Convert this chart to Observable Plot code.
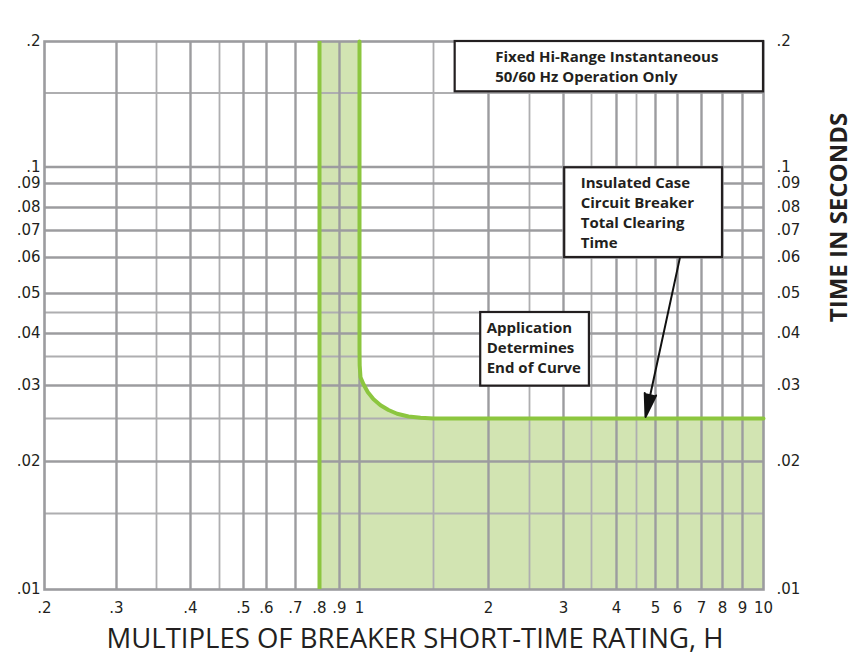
<!DOCTYPE html>
<html>
<head>
<meta charset="utf-8">
<script src="https://cdn.jsdelivr.net/npm/d3@7"></script>
<script src="https://cdn.jsdelivr.net/npm/@observablehq/plot@0.6"></script>
<style>
  html, body { margin: 0; padding: 0; background: #fff; }
  #chart { width: 866px; height: 657px; }
</style>
</head>
<body>
<div id="chart"></div>
<script>
// ---- Axis / grid values ----
const xLabelTicks = [0.2, 0.3, 0.4, 0.5, 0.6, 0.7, 0.8, 0.9, 1, 2, 3, 4, 5, 6, 7, 8, 9, 10];
const xMajorGrid = [0.3, 0.4, 0.5, 0.6, 0.7, 0.8, 0.9, 1, 2, 3, 4, 5, 6, 7, 8, 9];
const xMinorGrid = [0.35, 0.45, 1.5, 2.5, 3.5, 4.5];
const yLabelTicks = [0.01, 0.02, 0.03, 0.04, 0.05, 0.06, 0.07, 0.08, 0.09, 0.1, 0.2];
const yMajorGrid = [0.02, 0.03, 0.04, 0.05, 0.06, 0.07, 0.08, 0.09, 0.1];
const yMinorGrid = [0.015, 0.025, 0.035, 0.045, 0.15];

// The printed log paper is not perfectly logarithmic: piecewise log scale knots
const xKnots = [0.2, 0.3, 0.35, 0.4, 0.45, 0.5, 0.6, 0.7, 0.8, 0.9, 1, 1.5, 2, 2.5, 3, 3.5, 4, 4.5, 5, 6, 7, 8, 9, 10];
const xKnotRange = [44, 116, 156, 190, 219, 243, 266, 295, 319, 339, 359, 433, 488, 529, 563, 591, 616, 636, 655, 677, 701, 722, 742, 763];
const yKnots = [0.01, 0.015, 0.02, 0.025, 0.03, 0.035, 0.04, 0.045, 0.05, 0.06, 0.07, 0.08, 0.09, 0.1, 0.15, 0.2];
const yKnotRange = [589, 513, 461, 418, 385, 356, 333, 312, 293, 257, 230, 207, 183, 166.5, 92.5, 41];

// ---- Trip curve (total clearing time) ----
const curveX = [1, 1, 1.001, 1.0055, 1.022, 1.047, 1.08, 1.122, 1.172, 1.229, 1.308, 1.397, 1.5, 10];
const curveY = [0.2, 0.0365, 0.0334, 0.03135, 0.0302, 0.0289, 0.0278, 0.0269, 0.0262, 0.02566, 0.02528, 0.0251, 0.025, 0.025];
const bandStartX = 0.8;
const floorY = 0.01;
const topY = 0.2;

// ---- Annotation boxes ----
const noteText = [
  "Fixed Hi-Range Instantaneous\n50/60 Hz Operation Only",
  "Insulated Case\nCircuit Breaker\nTotal Clearing\nTime",
  "Application\nDetermines\nEnd of Curve"
];
const noteX1 = [1.68, 3.02, 1.92];
const noteX2 = [10, 8, 3.46];
const noteY1 = [0.151, 0.06, 0.0299];
const noteY2 = [0.2, 0.0995, 0.045];
const notePad = [40, 16, 6];

// ---- Arrow (from clearing-time box to curve) ----
const arrowFrom = [6.09, 0.0598];
const arrowTo = [4.73, 0.0252];

const xTitle = "MULTIPLES OF BREAKER SHORT-TIME RATING, H";
const yTitle = "TIME IN SECONDS";

// ---- Build tables ----
const curve = curveX.map((x, i) => ({x, y: curveY[i]}));
const band = [{x: bandStartX, y: topY}, ...curve];
const notes = noteText.map((t, i) => ({text: t, x1: noteX1[i], x2: noteX2[i], y1: noteY1[i], y2: noteY2[i], pad: notePad[i]}));
const arrows = [{x1: arrowFrom[0], y1: arrowFrom[1], x2: arrowTo[0], y2: arrowTo[1]}];

const fmt = d => { const s = String(d); return s.startsWith("0.") ? s.slice(1) : s; };

const GREEN = "#8cc63f";
const FILL = "#d2e4b2";
const GRID = "#9c9c9f";
const GRID_MINOR = "#aeaeb0";
const INK = "#231f20";
const TICKFONT = "'DejaVu Sans', sans-serif";

const chart = Plot.plot({
  width: 866,
  height: 657,
  marginLeft: 44,
  marginRight: 103,
  marginTop: 41,
  marginBottom: 68,
  style: {fontFamily: "'Open Sans', sans-serif", fontSize: "15px", color: INK, background: "#fff"},
  x: {type: "log", domain: xKnots, range: xKnotRange, axis: null},
  y: {type: "log", domain: yKnots, range: yKnotRange, axis: null},
  marks: [
    Plot.areaY(band, {x: "x", y1: floorY, y2: "y", fill: FILL}),
    Plot.gridX(xMinorGrid, {stroke: GRID_MINOR, strokeOpacity: 1, strokeWidth: 1.8}),
    Plot.gridY(yMinorGrid, {stroke: GRID_MINOR, strokeOpacity: 1, strokeWidth: 1.8}),
    Plot.gridX(xMajorGrid, {stroke: GRID, strokeOpacity: 1, strokeWidth: 2.4}),
    Plot.gridY(yMajorGrid, {stroke: GRID, strokeOpacity: 1, strokeWidth: 2.4}),
    Plot.frame({stroke: GRID, strokeWidth: 2.6}),
    Plot.ruleX([bandStartX], {y1: floorY, y2: topY, stroke: GREEN, strokeWidth: 4}),
    Plot.line(curve, {x: "x", y: "y", stroke: GREEN, strokeWidth: 4, strokeLinejoin: "round"}),
    Plot.rect(notes, {x1: "x1", x2: "x2", y1: "y1", y2: "y2", fill: "#fff", stroke: INK, strokeWidth: 2.2}),
    ...notes.map(n => Plot.text([n], {x: "x1", y: "y2", text: "text", dx: n.pad, dy: 6, textAnchor: "start", lineAnchor: "top",
      fontWeight: "bold", fontSize: 15, lineHeight: 1.33, fill: INK})),
    Plot.arrow(arrows, {x1: "x1", y1: "y1", x2: "x2", y2: "y2",
      stroke: "#111", fill: "#111", strokeWidth: 2, headLength: 18, headAngle: 28}),
    // tick labels
    Plot.text(xLabelTicks, {x: d => d, frameAnchor: "bottom", dy: 19, text: fmt, lineAnchor: "middle",
      textAnchor: "middle", fontFamily: TICKFONT, fontSize: 15, fill: INK}),
    Plot.text(yLabelTicks, {y: d => d, frameAnchor: "left", dx: -4, text: fmt, textAnchor: "end",
      fontFamily: TICKFONT, fontSize: 15, fill: INK}),
    Plot.text(yLabelTicks, {y: d => d, frameAnchor: "right", dx: 13, text: fmt, textAnchor: "start",
      fontFamily: TICKFONT, fontSize: 15, fill: INK}),
    // titles
    Plot.text([xTitle], {frameAnchor: "bottom", dx: 11, dy: 50, text: d => d, textAnchor: "middle", lineAnchor: "middle",
      fontSize: 27.5, fontWeight: 500, fill: INK}),
    Plot.text([yTitle], {frameAnchor: "top-right", dx: 76, dy: 176, rotate: -90, text: d => d,
      textAnchor: "middle", lineAnchor: "middle", fontSize: 24, fontWeight: "bold", fill: INK})
  ]
});

document.getElementById("chart").appendChild(chart);
</script>
</body>
</html>
